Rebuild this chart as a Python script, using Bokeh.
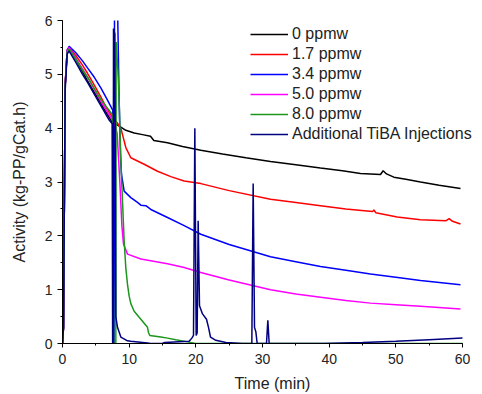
from bokeh.plotting import figure
from bokeh.models import Range1d, Legend, LegendItem
from bokeh.core.properties import value
from bokeh.embed import file_html
from bokeh.resources import INLINE

# ---- data ----
t_black = [0, 0.15, 0.4, 0.7, 1.0, 1.5, 2.0, 2.5, 3.0, 3.75, 4.5, 5.0, 5.75, 6.5, 7.0,
           7.5, 8.2, 8.75, 9.5, 10.75, 12.0, 13.2, 13.7, 15.75, 18.0, 20.75, 24.0, 27.5,
           31.2, 35.0, 38.7, 42.0, 44.7, 47.7, 48.1, 48.6, 49.7, 51.5, 53.7, 56.5, 59.7]
v_black = [0, 0.3, 4.8, 5.4, 5.45, 5.38, 5.28, 5.16, 5.05, 4.88, 4.72, 4.62, 4.46, 4.3, 4.2,
           4.1, 4.06, 4.02, 3.96, 3.91, 3.88, 3.85, 3.77, 3.73, 3.66, 3.59, 3.52, 3.45,
           3.38, 3.32, 3.26, 3.21, 3.16, 3.14, 3.21, 3.15, 3.09, 3.05, 3.0, 2.94, 2.88]

t_red = [0, 0.15, 0.4, 0.7, 1.0, 2.0, 3.0, 3.75, 4.5, 5.75, 6.5, 7.5, 8.2, 8.75, 9.5,
         10.25, 12.25, 14.25, 16.25, 18.25, 20.75, 25.0, 31.2, 35.0, 38.7, 42.5, 46.5,
         46.7, 47.0, 50.2, 53.7, 57.5, 58.0, 58.5, 59.7]
v_red = [0, 0.3, 4.8, 5.45, 5.5, 5.35, 5.17, 5.02, 4.86, 4.58, 4.4, 4.2, 4.1, 4.0, 3.64,
         3.45, 3.33, 3.2, 3.1, 3.02, 2.97, 2.84, 2.68, 2.62, 2.56, 2.5, 2.45,
         2.48, 2.43, 2.35, 2.3, 2.28, 2.32, 2.27, 2.22]

t_blue = [0, 0.15, 0.4, 0.7, 1.0, 2.0, 3.0, 3.75, 4.75, 5.75, 6.75, 7.55, 7.62, 7.75, 7.8,
          8.25, 8.5, 8.7, 8.85, 9.25, 10.25, 11.25, 11.75, 12.5, 13.25, 15.75, 18.25,
          20.75, 25.0, 31.2, 35.0, 38.7, 42.5, 46.2, 50.0, 53.7, 59.7]
v_blue = [0, 0.3, 4.8, 5.45, 5.52, 5.4, 5.25, 5.12, 4.95, 4.75, 4.52, 4.33, 0.0, 0.0, 6.3,
          6.3, 4.5, 3.5, 3.14, 2.83, 2.71, 2.62, 2.57, 2.56, 2.49, 2.34, 2.19,
          2.03, 1.84, 1.61, 1.52, 1.43, 1.36, 1.29, 1.23, 1.17, 1.09]

t_mag = [0, 0.15, 0.4, 0.7, 1.0, 2.0, 3.0, 3.75, 5.75, 7.5, 7.8, 8.2, 8.6, 8.9, 9.15,
         9.75, 11.75, 15.75, 18.25, 20.75, 25.0, 31.2, 35.0, 38.7, 42.5, 46.2, 50.0,
         53.7, 59.7]
v_mag = [0, 0.3, 4.8, 5.45, 5.5, 5.3, 5.1, 4.95, 4.5, 4.15, 4.1, 3.9, 3.0, 2.2, 1.85,
         1.66, 1.57, 1.48, 1.41, 1.32, 1.18, 1.0, 0.92, 0.86, 0.8, 0.75, 0.72,
         0.69, 0.64]

t_green = [0, 0.15, 0.4, 0.7, 1.0, 2.0, 3.0, 4.0, 5.75, 7.5, 7.7, 8.0, 8.05, 8.3, 8.5,
           8.75, 9.0, 9.25, 9.5, 9.75, 10.0, 10.25, 10.75, 11.75, 12.75, 12.9, 13.1,
           14.75, 15.75, 17.0, 18.75, 20.0, 60.0]
v_green = [0, 0.3, 4.8, 5.42, 5.47, 5.28, 5.08, 4.9, 4.53, 4.25, 0.0, 0.0, 5.6, 5.1, 4.5,
           3.4, 2.65, 1.9, 1.4, 1.1, 0.88, 0.74, 0.6, 0.45, 0.3, 0.2, 0.15,
           0.12, 0.1, 0.07, 0.03, 0.0, 0.0]

t_navy = [0, 0.15, 0.4, 0.7, 1.0, 2.0, 3.0, 3.75, 5.75, 7.0, 7.45, 7.52, 7.6, 7.65, 7.85,
          8.0, 8.25, 8.75, 9.75, 10.25, 12.75, 13.2, 15.0, 15.3, 19.0, 19.4, 19.65, 19.85,
          20.05, 20.2, 20.35, 20.55, 21.0, 21.6, 21.9, 22.2, 23.0, 24.5, 27.0, 28.4, 28.6,
          28.8, 29.0, 29.2, 30.6, 30.8, 31.0, 39.2, 45.0, 50.0, 55.0, 60.0]
v_navy = [0, 0.3, 4.7, 5.38, 5.43, 5.22, 5.0, 4.85, 4.42, 4.15, 4.08, 0.0, 0.0, 5.85, 5.75,
          0.5, 0.3, 0.12, 0.05, 0.04, 0.01, 0.0, 0.0, 0.02, 0.04, 0.1, 0.15, 4.0,
          0.15, 0.2, 2.28, 0.7, 0.55, 0.45, 0.3, 0.12, 0.06, 0.02, 0.0, 0.0, 2.97,
          0.3, 0.22, 0.0, 0.0, 0.43, 0.0, 0.0, 0.02, 0.04, 0.07, 0.1]

labels = ["0 ppmw", "1.7 ppmw", "3.4 ppmw", "5.0 ppmw", "8.0 ppmw", "Additional TiBA Injections"]
colors = ["#000000", "#ff0000", "#0000ff", "#ff00ff", "#1c961c", "#000080"]
series = [(t_black, v_black), (t_red, v_red), (t_blue, v_blue),
          (t_mag, v_mag), (t_green, v_green), (t_navy, v_navy)]

X_MIN, X_MAX = 0, 60
Y_MIN, Y_MAX = 0, 6

FONT = "Liberation Sans"
TXT = "#222222"

# The frame runs to the right edge of the canvas (so the legend is not clipped);
# the x axis itself is bounded to 0..60, which lands on the same pixels as the reference.
FRAME_LEFT, AXIS_LEN, CANVAS_W = 62, 400, 482
x_end = X_MAX * (CANVAS_W - FRAME_LEFT) / AXIS_LEN

p = figure(width=CANVAS_W, height=394, output_backend="svg", toolbar_location=None,
           x_range=Range1d(X_MIN, x_end), y_range=Range1d(Y_MIN, Y_MAX),
           min_border_left=FRAME_LEFT, min_border_right=0, min_border_top=20,
           min_border_bottom=50)
p.outline_line_color = None
p.xgrid.visible = False
p.ygrid.visible = False
p.background_fill_color = "white"
p.border_fill_color = "white"

items = []
for (tt, vv), c, lab in zip(series, colors, labels):
    r = p.line(tt, vv, line_color=c, line_width=1.5)
    items.append(LegendItem(label=lab, renderers=[r]))

legend = Legend(items=items, location=(188, 199), padding=0, margin=0, spacing=0,
                glyph_width=38, glyph_height=20, label_height=20, label_standoff=4,
                border_line_color=None, background_fill_alpha=0,
                label_text_font=FONT, label_text_font_size="16px", label_text_color=TXT)
legend.label_text_baseline = "middle"
p.add_layout(legend)

p.xaxis.bounds = (X_MIN, X_MAX)
p.xaxis.ticker.desired_num_ticks = 6
p.xaxis.ticker.num_minor_ticks = 2
p.yaxis.ticker.num_minor_ticks = 2
p.xaxis.axis_label = "Time (min)"
p.yaxis.axis_label = "Activity (kg-PP/gCat.h)"
for ax in (p.xaxis[0], p.yaxis[0]):
    ax.axis_line_color = "black"
    ax.major_tick_line_color = "black"
    ax.minor_tick_line_color = "black"
    ax.major_tick_in = 0
    ax.minor_tick_in = 0
    ax.minor_tick_out = 2
    ax.major_label_text_font = FONT
    ax.major_label_text_font_size = "14px"
    ax.major_label_text_color = TXT
    ax.axis_label_text_font = FONT
    ax.axis_label_text_font_size = "16px"
    ax.axis_label_text_font_style = "normal"
    ax.axis_label_text_color = TXT
p.xaxis.major_tick_out = 4
p.yaxis.major_tick_out = 5
p.xaxis.major_label_standoff = 6
p.yaxis.major_label_standoff = 5
p.xaxis.axis_label_standoff = 8
p.yaxis.axis_label_standoff = 14

open("out.html", "w").write(file_html(p, INLINE))
